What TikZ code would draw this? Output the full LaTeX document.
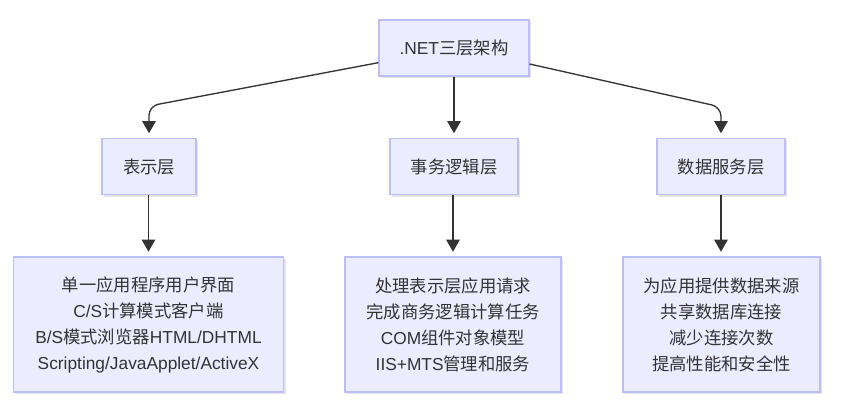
\documentclass[tikz,border=0pt]{standalone}
\usepackage{fontspec}
\setmainfont{Liberation Sans}
\newfontfamily\zhfont{Noto Sans CJK SC}
\newcommand\Z[1]{{\zhfont #1}}
\usetikzlibrary{arrows.meta,shadows}
\definecolor{boxfill}{HTML}{ECECFF}
\definecolor{boxdraw}{HTML}{BDBDF8}
\definecolor{linec}{HTML}{333333}
\definecolor{textc}{HTML}{333333}
\tikzset{
  box/.style={draw=boxdraw, fill=boxfill, line width=0.9pt, inner sep=0pt,
    text=textc, align=center, font=\fontsize{13}{19.5}\selectfont,
    drop shadow={shadow xshift=1.5pt, shadow yshift=-1.5pt, opacity=0.1, fill=black}},
  conn/.style={draw=linec, line width=1pt, -{Triangle[length=9pt,width=10pt]}, shorten >=3.5pt}
}
\begin{document}
\begin{tikzpicture}[x=0.75pt,y=-0.75pt]
\useasboundingbox (0,0) rectangle (855,405);
\node[box, minimum width=150*0.75pt, minimum height=56*0.75pt] (top) at (454,48) {.NET\Z{三层架构}};
\node[box, minimum width=94*0.75pt, minimum height=56*0.75pt] (p) at (149,166.5) {\Z{表示层}};
\node[box, minimum width=128*0.75pt, minimum height=56*0.75pt] (b) at (454,166.5) {\Z{事务逻辑层}};
\node[box, minimum width=128*0.75pt, minimum height=56*0.75pt] (d) at (721,166.5) {\Z{数据服务层}};
\node[box, minimum width=270*0.75pt, minimum height=135*0.75pt] (pd) at (148.5,324.5) {\Z{单一应用程序用户界面}\\C/S\Z{计算模式客户端}\\B/S\Z{模式浏览器}HTML/DHTML\\Scripting/JavaApplet/ActiveX};
\node[box, minimum width=216*0.75pt, minimum height=135*0.75pt] (bd) at (453,324.5) {\Z{处理表示层应用请求}\\\Z{完成商务逻辑计算任务}\\COM\Z{组件对象模型}\\IIS+MTS\Z{管理和服务}};
\node[box, minimum width=197*0.75pt, minimum height=135*0.75pt] (dd) at (721.5,324.5) {\Z{为应用提供数据来源}\\\Z{共享数据库连接}\\\Z{减少连接次数}\\\Z{提高性能和安全性}};
\draw[conn, rounded corners=7pt] ([yshift=-11pt]top.west) -- (p.north |- 0,106) -- (p.north);
\draw[conn] (top.south -| b.north) -- (b.north);
\draw[conn, rounded corners=7pt] ([yshift=-12pt]top.east) -- (d.north |- 0,107) -- (d.north);
\draw[conn] (p.south -| pd.north) -- (pd.north);
\draw[conn] (b.south -| bd.north) -- (bd.north);
\draw[conn] (d.south) -- (d.south |- dd.north);
\end{tikzpicture}
\end{document}
